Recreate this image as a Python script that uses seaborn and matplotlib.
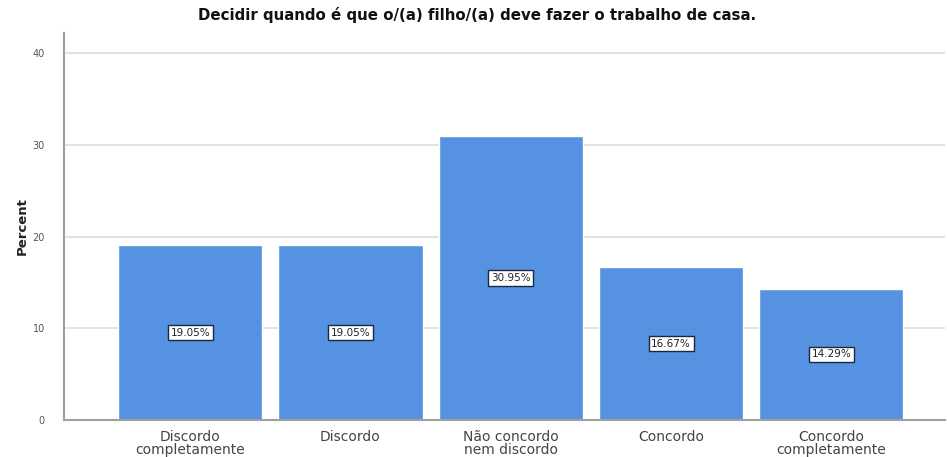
import matplotlib
matplotlib.use("Agg")
import matplotlib.pyplot as plt
import seaborn as sns
import pandas as pd

categories = ["Discordo\ncompletamente", "Discordo", "Não concordo\nnem discordo",
              "Concordo", "Concordo\ncompletamente"]
percent = [19.05, 19.05, 30.95, 16.67, 14.29]
y_ticks = [0, 10, 20, 30, 40]
title = "Decidir quando é que o/(a) filho/(a) deve fazer o trabalho de casa."

df = pd.DataFrame({"categoria": categories, "percent": percent})

sns.set_theme(style="white")
plt.rcParams["font.family"] = ["DejaVu Sans"]

fig = plt.figure(figsize=(9.47, 4.57), dpi=100)
ax = fig.add_axes([0.068, 0.081, 0.930, 0.847])

sns.barplot(data=df, x="categoria", y="percent", color="#5592e2",
            saturation=1, width=0.9, ax=ax, zorder=2)

ax.set_ylim(0, 42.2)
ax.set_xlim(-0.785, 4.71)
ax.set_yticks(y_ticks)
ax.yaxis.grid(True, color="#dddddd", linewidth=1.2, zorder=0)
ax.set_axisbelow(True)

for s in ["top", "right"]:
    ax.spines[s].set_visible(False)
for s in ["left", "bottom"]:
    ax.spines[s].set_color("#a0a0a0")
    ax.spines[s].set_linewidth(1.5)

ax.tick_params(axis="x", length=0, pad=7, labelsize=10, labelcolor="#444444")
ax.tick_params(axis="y", length=0, pad=14, labelsize=7, labelcolor="#555555")
for lbl in ax.get_xticklabels():
    lbl.set_linespacing(0.92)

ax.set_xlabel("")
ax.set_ylabel("Percent", fontsize=9.5, fontweight="bold", color="#222222", labelpad=3)
fig.text(0.504, 0.967, title, ha="center", va="center", fontsize=10.8,
         fontweight="bold", color="#111111")

for i, v in enumerate(percent):
    ax.text(i, v / 2, f"{v:.2f}%", ha="center", va="center", fontsize=7.5,
            color="#222222", zorder=3,
            bbox=dict(boxstyle="square,pad=0.25", facecolor="white",
                      edgecolor="#1a2a3a", linewidth=1.0))

fig.savefig("out.png", dpi=100)
